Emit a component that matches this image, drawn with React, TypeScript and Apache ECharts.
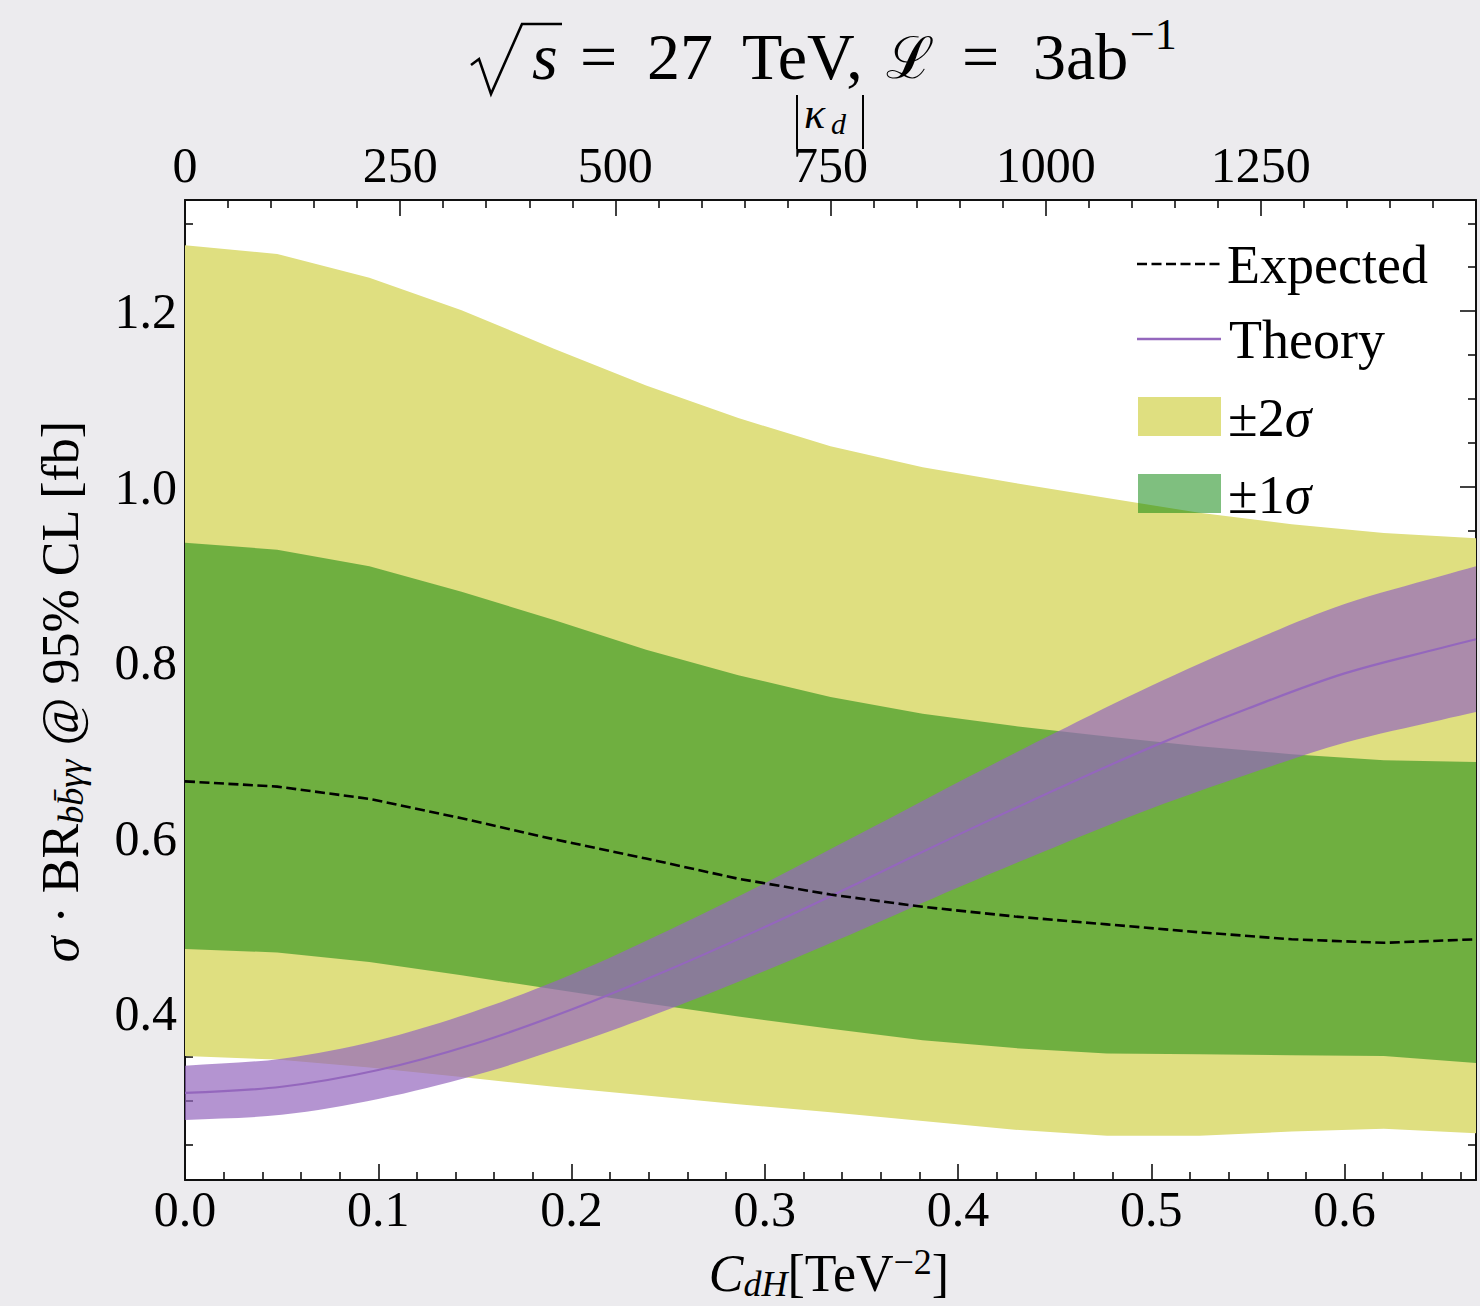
import React, { useEffect, useRef } from "react";
import * as echarts from "echarts";

const BG = "#ecebee";
const FONT = "'Liberation Serif', 'DejaVu Serif', serif";

// C_dH sample points of the expected limit and its bands
const cdh = [0, 0.0477, 0.0954, 0.1431, 0.1909, 0.2386, 0.2863, 0.334, 0.3817, 0.4294, 0.4771, 0.5249, 0.5726, 0.6203, 0.668];
const expected = [0.664, 0.658, 0.644, 0.622, 0.598, 0.576, 0.553, 0.535, 0.521, 0.51, 0.501, 0.492, 0.484, 0.48, 0.484];
const sigma2Hi = [1.275, 1.265, 1.238, 1.201, 1.157, 1.115, 1.078, 1.046, 1.022, 1.004, 0.987, 0.97, 0.957, 0.947, 0.941];
const sigma1Hi = [0.936, 0.928, 0.909, 0.88, 0.848, 0.814, 0.785, 0.76, 0.741, 0.727, 0.715, 0.704, 0.695, 0.688, 0.686];
const sigma1Lo = [0.473, 0.469, 0.458, 0.443, 0.427, 0.411, 0.396, 0.382, 0.369, 0.36, 0.354, 0.353, 0.352, 0.351, 0.343];
const sigma2Lo = [0.351, 0.347, 0.338, 0.327, 0.316, 0.306, 0.296, 0.287, 0.277, 0.267, 0.26, 0.26, 0.265, 0.268, 0.263];

// Theory prediction and its band
const cdhTheory = [0, 0.05, 0.1, 0.15, 0.2, 0.25, 0.3, 0.35, 0.4, 0.45, 0.5, 0.55, 0.6, 0.65, 0.668];
const theory = [0.309, 0.316, 0.335, 0.365, 0.404, 0.449, 0.498, 0.55, 0.603, 0.654, 0.703, 0.747, 0.787, 0.816, 0.826];
const theoryHi = [0.34, 0.348, 0.369, 0.402, 0.444, 0.494, 0.548, 0.605, 0.663, 0.719, 0.773, 0.822, 0.866, 0.898, 0.909];
const theoryLo = [0.278, 0.284, 0.302, 0.329, 0.364, 0.404, 0.448, 0.495, 0.543, 0.589, 0.633, 0.672, 0.708, 0.734, 0.743];

const legendLabels = ["Expected", "Theory", "±2", "±1"];

const X_MIN = 0;
const X_MAX = 0.668;
const K_MAX = 1500;
const Y_MIN = 0.2097;
const Y_MAX = 1.3265;

const YELLOW = "#dfdf80";
const GREEN = "rgba(0,128,0,0.5)";
const PURPLE = "#9467bd";
const PURPLE_BAND = "rgba(148,103,189,0.7)";

function bandSeries(name: string, xs: number[], lo: number[], hi: number[], color: string, smooth: number) {
  return {
    type: "custom",
    name,
    coordinateSystem: "cartesian2d",
    xAxisIndex: 0,
    yAxisIndex: 0,
    silent: true,
    dimensions: ["x", "lo", "hi"],
    encode: { x: 0, y: [1, 2] },
    data: xs.map((x, i) => [x, lo[i], hi[i]]),
    renderItem: (params: any, api: any) => {
      if (params.dataIndex !== 0) return null;
      const up = xs.map((x, i) => api.coord([x, hi[i]]));
      const dn = xs.map((x, i) => api.coord([x, lo[i]])).reverse();
      let pts: number[][];
      if (smooth > 0) {
        const n = up.length;
        pts = [up[0], up[0].slice(), ...up.slice(1, n - 1), up[n - 1], up[n - 1].slice(), dn[0], dn[0].slice(), ...dn.slice(1, n - 1), dn[n - 1], dn[n - 1].slice()];
      } else {
        pts = [...up, ...dn];
      }
      return {
        type: "polygon",
        shape: { points: pts, smooth: smooth > 0 ? smooth : 0 },
        style: { fill: color, stroke: null },
      };
    },
  };
}

const txt = (x: number, y: number, text: string, size: number, extra: any = {}) => ({
  type: "text",
  x,
  y,
  z: 50,
  silent: true,
  style: {
    text,
    fill: "#000",
    fontSize: size,
    fontFamily: FONT,
    align: "left",
    verticalAlign: "middle",
    textAlign: "left",
    textVerticalAlign: "middle",
    ...extra,
  },
});

const axisLineStyle = { color: "#111", width: 2 };
const tickStyle = { color: "#111", width: 1.6 };
const labelBase = { fontFamily: FONT, fontSize: 50, color: "#000" };

function buildOption() {
  const axisCommon = {
    axisLine: { show: true, onZero: false, lineStyle: axisLineStyle },
    axisTick: { show: true, inside: true, length: 16, lineStyle: tickStyle },
    splitLine: { show: false },
    minorSplitLine: { show: false },
  };
  const richMain = { fontFamily: FONT, fontSize: 52, lineHeight: 58, fill: "#000", color: "#000" };
  return {
    animation: false,
    backgroundColor: BG,
    textStyle: { fontFamily: FONT },
    grid: { left: 185, top: 200, width: 1291, height: 980, show: true, backgroundColor: "#ffffff", borderWidth: 0 },
    xAxis: [
      {
        type: "value",
        position: "bottom",
        min: X_MIN,
        max: X_MAX,
        interval: 0.1,
        ...axisCommon,
        minorTick: { show: true, splitNumber: 5, length: 8, lineStyle: tickStyle },
        axisLabel: { ...labelBase, margin: 4, showMaxLabel: false, formatter: (v: number) => v.toFixed(1) },
      },
      {
        type: "value",
        position: "top",
        min: 0,
        max: K_MAX,
        interval: 250,
        ...axisCommon,
        minorTick: { show: true, splitNumber: 5, length: 8, lineStyle: tickStyle },
        axisLabel: { ...labelBase, lineHeight: 34, margin: 18, showMaxLabel: false, formatter: (v: number) => String(v) },
      },
    ],
    yAxis: [
      {
        type: "value",
        position: "left",
        min: Y_MIN,
        max: Y_MAX,
        splitNumber: 5,
        ...axisCommon,
        minorTick: { show: true, splitNumber: 4, length: 8, lineStyle: tickStyle },
        axisLabel: { ...labelBase, margin: 8, showMinLabel: false, showMaxLabel: false, formatter: (v: number) => v.toFixed(1) },
      },
      {
        type: "value",
        position: "right",
        min: Y_MIN,
        max: Y_MAX,
        splitNumber: 5,
        ...axisCommon,
        minorTick: { show: true, splitNumber: 4, length: 8, lineStyle: tickStyle },
        axisLabel: { show: false },
      },
    ],
    series: [
      bandSeries("±2σ", cdh, sigma2Lo, sigma2Hi, YELLOW, 0),
      bandSeries("±1σ", cdh, sigma1Lo, sigma1Hi, GREEN, 0),
      bandSeries("Theory band", cdhTheory, theoryLo, theoryHi, PURPLE_BAND, 0.35),
      {
        type: "line",
        name: "Theory",
        data: cdhTheory.map((x, i) => [x, theory[i]]),
        smooth: 0.35,
        symbol: "none",
        showSymbol: false,
        silent: true,
        lineStyle: { color: PURPLE, width: 2.2 },
      },
      {
        type: "line",
        name: "Expected",
        data: cdh.map((x, i) => [x, expected[i]]),
        symbol: "none",
        showSymbol: false,
        silent: true,
        lineStyle: { color: "#000", width: 2.6, type: [10, 4.5] },
      },
    ],
    graphic: [
      // title
      {
        type: "polyline",
        z: 50,
        silent: true,
        shape: { points: [[471, 65], [479, 59], [491, 94], [522, 24], [562, 24]] },
        style: { stroke: "#000", lineWidth: 2.6, fill: null },
      },
      txt(532, 56, "s", 66, { fontStyle: "italic" }),
      txt(580, 56, "=", 66),
      txt(647, 56, "27", 66),
      txt(742, 56, "TeV,", 66),
      txt(886, 58, "ℒ", 58),
      txt(962, 56, "=", 66),
      txt(1033, 56, "3ab", 66),
      txt(1130, 34, "−1", 44),
      // top axis name |κ_d|
      { type: "line", z: 50, silent: true, shape: { x1: 797, y1: 95, x2: 797, y2: 149 }, style: { stroke: "#000", lineWidth: 2 } },
      { type: "line", z: 50, silent: true, shape: { x1: 863, y1: 95, x2: 863, y2: 149 }, style: { stroke: "#000", lineWidth: 2 } },
      txt(804, 113, "κ", 44, { fontStyle: "italic", lineHeight: 30 }),
      txt(831, 123, "d", 30, { fontStyle: "italic", lineHeight: 20 }),
      // x axis name
      {
        type: "text",
        x: 829,
        y: 1273,
        z: 50,
        silent: true,
        style: {
          text: "{i|C}{s|dH}{n|[TeV}{p|−2}{n|]}",
          align: "center",
          verticalAlign: "middle",
          textAlign: "center",
          textVerticalAlign: "middle",
          rich: {
            i: { ...richMain, fontStyle: "italic" },
            n: { ...richMain },
            s: { fontFamily: FONT, fontSize: 36, lineHeight: 30, fontStyle: "italic", verticalAlign: "bottom" },
            p: { fontFamily: FONT, fontSize: 36, lineHeight: 30, verticalAlign: "top" },
          },
        },
      },
      // y axis name
      {
        type: "text",
        x: 60,
        y: 691,
        rotation: Math.PI / 2,
        z: 50,
        silent: true,
        style: {
          text: "{i|σ}{n| · BR}{s|bb\u0304γγ}{n| @ 95% CL [fb]}",
          align: "center",
          verticalAlign: "middle",
          textAlign: "center",
          textVerticalAlign: "middle",
          rich: {
            i: { ...richMain, fontStyle: "italic" },
            n: { ...richMain },
            s: { fontFamily: FONT, fontSize: 36, lineHeight: 30, fontStyle: "italic", verticalAlign: "bottom" },
          },
        },
      },
      // legend
      { type: "line", z: 50, silent: true, shape: { x1: 1137, y1: 264, x2: 1221, y2: 264 }, style: { stroke: "#000", lineWidth: 2.6, lineDash: [10, 4.5] } },
      txt(1227, 265, legendLabels[0], 54),
      { type: "line", z: 50, silent: true, shape: { x1: 1137, y1: 339, x2: 1221, y2: 339 }, style: { stroke: PURPLE, lineWidth: 2.4 } },
      txt(1229, 340, legendLabels[1], 54),
      { type: "rect", z: 50, silent: true, shape: { x: 1138, y: 397, width: 83, height: 39 }, style: { fill: YELLOW } },
      txt(1228, 418, `{n|${legendLabels[2]}}{i|σ}`, 54, {
        rich: { n: { fontFamily: FONT, fontSize: 54 }, i: { fontFamily: FONT, fontSize: 54, fontStyle: "italic" } },
      }),
      { type: "rect", z: 50, silent: true, shape: { x: 1138, y: 474, width: 83, height: 39 }, style: { fill: GREEN } },
      txt(1228, 495, `{n|${legendLabels[3]}}{i|σ}`, 54, {
        rich: { n: { fontFamily: FONT, fontSize: 54 }, i: { fontFamily: FONT, fontSize: 54, fontStyle: "italic" } },
      }),
    ],
  };
}

export default function App() {
  const ref = useRef<HTMLDivElement>(null);
  useEffect(() => {
    if (!ref.current) return;
    const chart = echarts.init(ref.current, null, { renderer: "svg" });
    chart.setOption(buildOption() as any);
    return () => chart.dispose();
  }, []);
  return (
    <div
      ref={ref}
      style={{ position: "fixed", left: 0, top: 0, width: 1480, height: 1306, background: BG }}
    />
  );
}
